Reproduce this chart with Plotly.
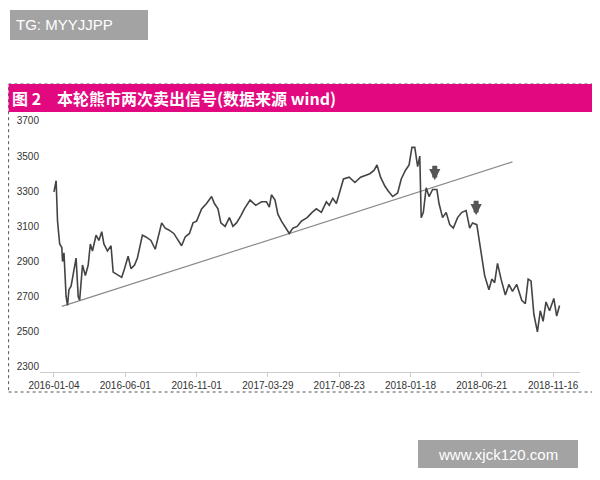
import plotly.graph_objects as go

# trading-day index vs. index level
days = [0, 3, 5, 8, 11, 12, 14, 17, 19, 21, 24, 28, 31, 34, 36, 40, 44, 48, 51, 54, 59, 63, 67, 70, 75,
        80, 83, 91, 95, 99, 104, 108, 113, 117, 124, 129, 136, 142, 145, 151, 156, 161, 168, 175, 179,
        184, 190, 195, 200, 207, 214, 221, 225, 230, 234, 240, 246, 251, 256, 262, 267, 275, 283, 291,
        298, 302, 305, 310, 314, 319, 325, 330, 335, 341, 347, 355, 362, 368, 375, 382, 386, 391, 396,
        402, 406, 414, 422, 430, 438, 443, 449, 453, 458, 464, 469, 475, 482, 487, 493, 498, 502, 506,
        510, 513, 515, 518, 522, 526, 531, 537, 540, 545, 550, 555, 560, 566, 572, 578, 583, 587, 593,
        597, 601, 604, 610, 614, 618, 622, 627, 633, 638, 643, 649, 656, 661, 665, 669, 673, 678, 682,
        686, 690, 695, 701, 705, 709]
values = [3296, 3360, 3130, 3000, 2980, 2900, 2950, 2700, 2650, 2740, 2760, 2860, 2920, 2700, 2680, 2880,
          2820, 2880, 3000, 2960, 3050, 3020, 3070, 3000, 2960, 2990, 2840, 2820, 2810, 2860, 2930, 2860,
          2880, 2920, 3050, 3040, 3020, 2970, 3020, 3120, 3090, 3080, 3060, 3020, 2990, 3040, 3060, 3120,
          3130, 3200, 3230, 3270, 3230, 3200, 3120, 3100, 3150, 3100, 3120, 3160, 3200, 3250, 3220, 3240,
          3240, 3210, 3280, 3250, 3170, 3130, 3090, 3060, 3090, 3100, 3130, 3150, 3180, 3200, 3180, 3240,
          3220, 3260, 3230, 3320, 3370, 3380, 3350, 3380, 3390, 3400, 3420, 3450, 3380, 3330, 3300, 3270,
          3290, 3370, 3420, 3450, 3550, 3550, 3440, 3500, 3150, 3180, 3320, 3270, 3310, 3310, 3230, 3150,
          3180, 3110, 3090, 3150, 3180, 3190, 3090, 3120, 3110, 3000, 2880, 2820, 2740, 2800, 2780, 2890,
          2800, 2710, 2770, 2730, 2770, 2680, 2660, 2800, 2790, 2600, 2500, 2620, 2560, 2670, 2620, 2690,
          2590, 2650]

trend_days = [11, 643]
trend_values = [2645, 3467]

signal_days = [534, 592]
signal_values = [3362, 3163]

tick_days = [0, 100, 200, 300, 400, 500, 600, 700]
tick_labels = ["2016-01-04", "2016-06-01", "2016-11-01", "2017-03-29",
               "2017-08-23", "2018-01-18", "2018-06-21", "2018-11-16"]
y_ticks = [2300, 2500, 2700, 2900, 3100, 3300, 3500, 3700]

OFF = 8  # page offset seen in the screenshot


def px(x):
    return (x - OFF) / 600


def py(y):
    return 1 - (y - OFF) / 480


fig = go.Figure()
fig.add_trace(go.Scatter(x=trend_days, y=trend_values, mode="lines",
                         line=dict(color="#8a8a8a", width=1.2)))
fig.add_trace(go.Scatter(x=days, y=values, mode="lines",
                         line=dict(color="#444444", width=1.6)))

for d, v in zip(signal_days, signal_values):
    fig.add_annotation(x=d, y=v, ax=0, ay=-16, showarrow=True, arrowhead=2,
                       arrowsize=0.45, arrowwidth=5, arrowcolor="#555555", text="")

fig.add_shape(type="rect", xref="paper", yref="paper", x0=0.001, x1=px(597), y0=py(392), y1=py(84),
              line=dict(color="#555555", width=1, dash="dot"), fillcolor="rgba(0,0,0,0)")
fig.add_shape(type="rect", xref="paper", yref="paper", x0=0.001, x1=px(597), y0=py(112), y1=py(84),
              line=dict(width=0), fillcolor="#e2087f")
fig.add_shape(type="rect", xref="paper", yref="paper", x0=px(10), x1=px(148), y0=py(40), y1=py(10),
              line=dict(width=0), fillcolor="#a3a3a3")
fig.add_shape(type="rect", xref="paper", yref="paper", x0=px(418), x1=px(578), y0=py(468), y1=py(440),
              line=dict(width=0), fillcolor="#a3a3a3")

fig.add_annotation(xref="paper", yref="paper", x=px(10), y=py(98), xanchor="left", yanchor="middle",
                   text="<b>图 2　本轮熊市两次卖出信号(数据来源 wind)</b>", showarrow=False,
                   font=dict(color="white", size=16, family="Noto Sans CJK SC"))
fig.add_annotation(xref="paper", yref="paper", x=px(14), y=py(25), xanchor="left", yanchor="middle",
                   text="TG: MYYJJPP", showarrow=False, font=dict(color="white", size=15, family="Liberation Sans"))
fig.add_annotation(xref="paper", yref="paper", x=px(498), y=py(454), xanchor="center", yanchor="middle",
                   text="www.xjck120.com", showarrow=False, font=dict(color="white", size=15, family="Liberation Sans"))

fig.update_layout(
    width=600, height=480, margin=dict(l=0, r=0, t=0, b=0),
    paper_bgcolor="white", plot_bgcolor="white", showlegend=False,
    xaxis=dict(domain=[px(40), px(580)], range=[-19.6, 737.7], tickvals=tick_days, ticktext=tick_labels,
               automargin=False, showgrid=False, zeroline=False, showline=True, linecolor="#cccccc",
               ticks="outside", tickcolor="#cccccc", ticklen=4,
               tickfont=dict(size=10, color="#333333", family="Liberation Sans")),
    yaxis=dict(domain=[py(372), py(115)], range=[2271.5, 3734], tickvals=y_ticks,
               automargin=False, showgrid=False, zeroline=False, showline=False,
               tickfont=dict(size=10, color="#333333", family="Liberation Sans")),
)

fig.write_html("out.html")
